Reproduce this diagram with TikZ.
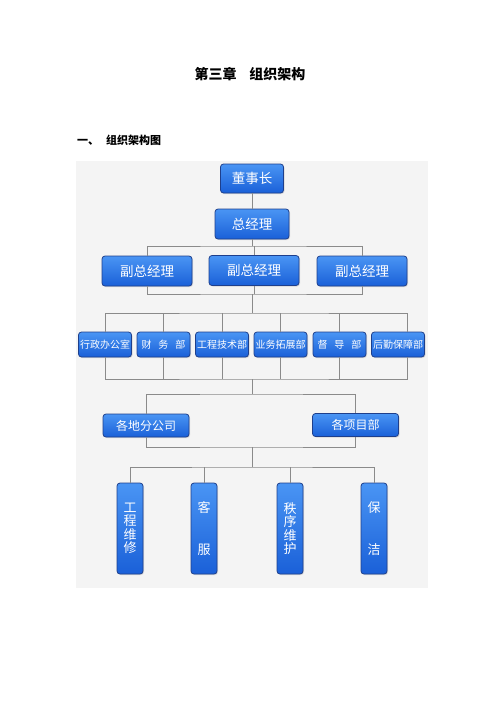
\documentclass[tikz,border=0pt]{standalone}
\usepackage{fontspec}
\setmainfont{Noto Sans CJK SC}
\usetikzlibrary{positioning,shadows}

\definecolor{boxTop}{HTML}{4A95F4}
\definecolor{boxBottom}{HTML}{1A60D8}
\definecolor{boxEdge}{HTML}{1E3F8C}
\definecolor{lineGray}{HTML}{8A8A8A}
\definecolor{panelGray}{HTML}{F4F4F4}

\begin{document}
\begin{tikzpicture}[
    x=1pt, y=-1pt,
    font=\fontsize{13pt}{15pt}\selectfont,
    orgBox/.style={
        rectangle,
        draw=boxEdge,
        top color=boxTop,
        bottom color=boxBottom,
        thick,
        rounded corners=3pt,
        text=white,
        align=center,
        inner sep=1pt,
        drop shadow={opacity=0.25,shadow xshift=1pt,shadow yshift=-1pt}
    },
    headBox/.style={
        orgBox,
        minimum height=29pt,
        font=\fontsize{13.5pt}{15pt}\selectfont
    },
    deptBox/.style={
        orgBox,
        minimum width=53pt,
        minimum height=25pt,
        font=\fontsize{10pt}{12pt}\selectfont
    },
    unitBox/.style={
        orgBox,
        minimum width=86pt,
        minimum height=23pt,
        font=\fontsize{12pt}{14pt}\selectfont
    },
    serviceBox/.style={
        orgBox,
        minimum width=26pt,
        minimum height=91pt,
        font=\fontsize{13pt}{13.5pt}\selectfont
    },
    orgLine/.style={
        draw=lineGray,
        line width=0.8pt
    }
]
\useasboundingbox (0,0) rectangle (500,707);

% ==================== HEADINGS ====================
\node (chapterTitle) at (250,74) {\fontsize{14pt}{16pt}\selectfont\bfseries 第三章\hspace{0.9em}组织架构};
\node[anchor=west, inner sep=0pt] (sectionTitle) at (77,140) {\fontsize{11pt}{13pt}\selectfont\bfseries 一、\hspace{7pt}组织架构图};

% panel behind the chart
\fill[panelGray] (76,161) rectangle (428,588);

% ==================== TOP LEVELS ====================
\node[headBox, minimum width=63pt] (chairman) at (252,178.5) {董事长};
\node[headBox, minimum width=74pt, minimum height=30pt] (genManager) at (252,224) {总经理};
\node[headBox, minimum width=90pt, minimum height=30pt] (vpLeft) at (147,271) {副总经理};
\node[headBox, minimum width=90pt, minimum height=30pt] (vpMid) at (254,270.5) {副总经理};
\node[headBox, minimum width=90pt, minimum height=30pt] (vpRight) at (362,271) {副总经理};

% ==================== DEPARTMENTS ====================
\node[deptBox] (deptAdmin) at (105,344.5) {行政办公室};
\node[deptBox] (deptFinance) at (163.5,344.5) {财\hspace{0.7em}务\hspace{0.7em}部};
\node[deptBox] (deptTech) at (222,344.5) {工程技术部};
\node[deptBox] (deptMarket) at (280.5,344.5) {业务拓展部};
\node[deptBox] (deptSupervise) at (339.5,344.5) {督\hspace{0.7em}导\hspace{0.7em}部};
\node[deptBox] (deptLogistics) at (398,344.5) {后勤保障部};

% ==================== UNITS ====================
\node[unitBox] (branchCo) at (146,425.5) {各地分公司};
\node[unitBox] (projectDept) at (355.5,425) {各项目部};

% ==================== SERVICES ====================
\node[serviceBox] (svcRepair) at (130,528.5) {工\\程\\维\\修};
\node[serviceBox] (svcCustomer) at (204,528.5) {客\\[28pt]服};
\node[serviceBox] (svcOrder) at (290,528.5) {秩\\序\\维\\护};
\node[serviceBox] (svcCleaning) at (374,528.5) {保\\[28pt]洁};

% ==================== CONNECTORS ====================
\coordinate (busA) at (252,246);
\coordinate (busB) at (252,294);
\coordinate (busC) at (252,313);
\coordinate (busD) at (252,379);
\coordinate (busE) at (252,394);
\coordinate (busF) at (252,447);
\coordinate (busG) at (252,467);

\draw[orgLine] (chairman) -- (genManager);
\draw[orgLine] (genManager.south) -- (busA);
\draw[orgLine] (vpLeft.north) |- (busA) -| (vpRight.north);
\draw[orgLine] (vpMid.north) -- (vpMid.north |- busA);
\draw[orgLine] (vpLeft.south) |- (busB) -| (vpRight.south);
\draw[orgLine] (vpMid.south) -- (vpMid.south |- busB);
\draw[orgLine] (busB) -- (busC);

\draw[orgLine] (deptAdmin.north) |- (busC) -| ([xshift=9pt]deptLogistics.north);
\draw[orgLine] (deptAdmin.south) |- (busD) -| ([xshift=9pt]deptLogistics.south);
\foreach \dept in {deptFinance,deptTech,deptMarket,deptSupervise} {
    \draw[orgLine] (\dept.north) -- (\dept.north |- busC);
    \draw[orgLine] (\dept.south) -- (\dept.south |- busD);
}
\draw[orgLine] (busD) -- (busE);

\draw[orgLine] (branchCo.north) |- (busE) -| (projectDept.north);
\draw[orgLine] (branchCo.south) |- (busF) -| (projectDept.south);
\draw[orgLine] (busF) -- (busG);

\draw[orgLine] (svcRepair.north) |- (busG) -| (svcCleaning.north);
\draw[orgLine] (svcCustomer.north) -- (svcCustomer.north |- busG);
\draw[orgLine] (svcOrder.north) -- (svcOrder.north |- busG);

\end{tikzpicture}
\end{document}
